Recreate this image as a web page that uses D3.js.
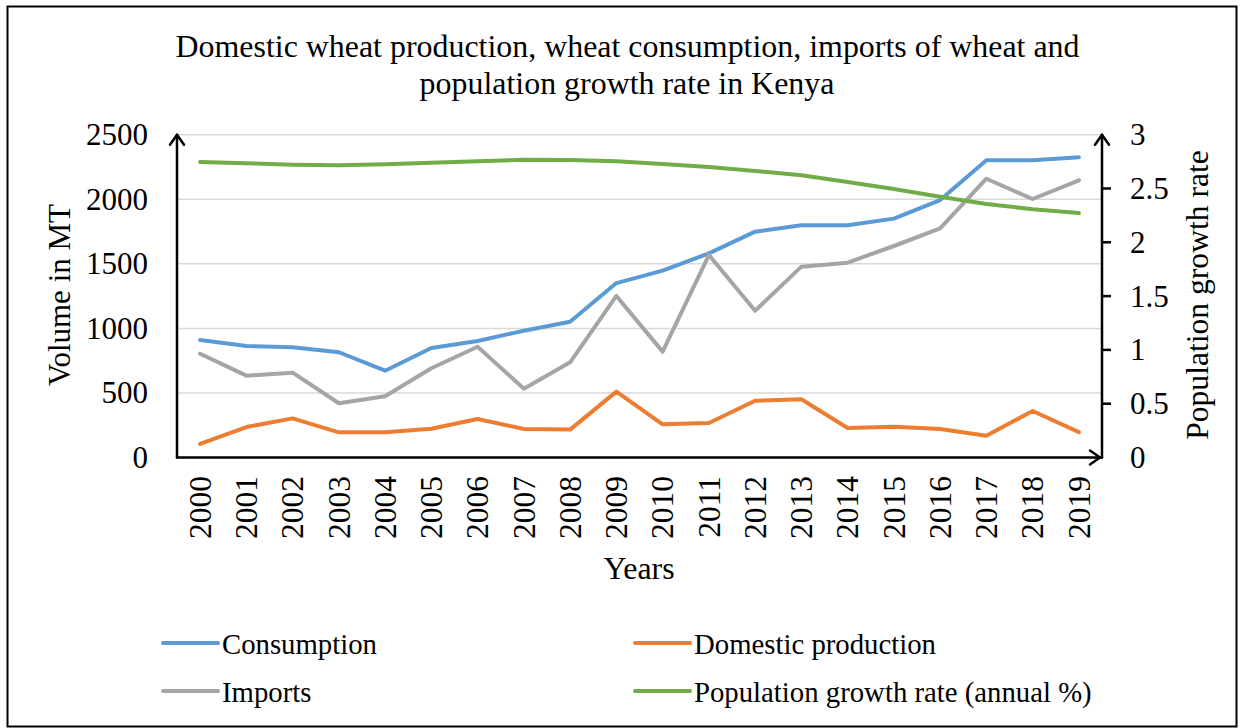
<!DOCTYPE html>
<html><head><meta charset="utf-8">
<script src="https://cdn.jsdelivr.net/npm/d3@7"></script>
<style>body{margin:0;background:#fff}svg{display:block}text{font-family:"Liberation Serif","Times New Roman",serif;fill:#000}</style>
</head><body><svg id="c" width="1244" height="728"></svg>
<script>
const years = ["2000","2001","2002","2003","2004","2005","2006","2007","2008","2009","2010","2011","2012","2013","2014","2015","2016","2017","2018","2019"];
const consumption = [910,864,853,815,672,848,902,982,1052,1351,1447,1581,1749,1798,1798,1850,1994,2302,2302,2325];
const domestic = [105,236,303,195,195,223,298,221,216,510,257,267,440,451,228,239,221,169,360,197];
const imports = [804,634,657,420,474,691,858,533,737,1251,820,1568,1137,1478,1509,1638,1775,2159,2002,2147];
const popGrowth = [2.746,2.734,2.721,2.716,2.725,2.740,2.753,2.768,2.765,2.753,2.728,2.700,2.663,2.623,2.560,2.495,2.424,2.356,2.307,2.272];
const leftTicks = [0,500,1000,1500,2000,2500];
const rightTicks = [0,0.5,1,1.5,2,2.5,3];
const seriesNames = ["Consumption","Domestic production","Imports","Population growth rate (annual %)"];
const colors = ["#5b9bd5","#ed7d31","#a5a5a5","#70ad47"];

const svg = d3.select("#c");
svg.append("rect").attr("x",7.5).attr("y",6.5).attr("width",1229).attr("height",720).attr("fill","none").attr("stroke","#000").attr("stroke-width",2);

const L=177, R=1102, T=134.7, B=457.5;
const x = d3.scalePoint().domain(years).range([L,R]).padding(0.5);
const yL = d3.scaleLinear().domain([0,2500]).range([B,T]);
const yR = d3.scaleLinear().domain([0,3]).range([B,T]);

// gridlines
svg.append("g").selectAll("line").data(leftTicks.slice(1)).join("line")
  .attr("x1",L).attr("x2",R).attr("y1",d=>yL(d)).attr("y2",d=>yL(d))
  .attr("stroke","#d9d9d9").attr("stroke-width",1.5);

function txt(parent, tx, ty, rot, s, size, anchor, str, dy){
  const t = parent.append("text")
    .attr("transform",`translate(${tx},${ty})${rot?` rotate(${rot})`:""} scale(${s},1)`)
    .attr("font-size",size).attr("text-anchor",anchor).text(str);
  if(dy) t.attr("dy",dy);
  return t;
}

// title
txt(svg,627.5,57,0,1.03,31,"middle","Domestic wheat production, wheat consumption, imports of wheat and");
txt(svg,627,94,0,1.03,31,"middle","population growth rate in Kenya");

// series
const lineL = d3.line().x((d,i)=>x(years[i])).y(d=>yL(d));
const lineR = d3.line().x((d,i)=>x(years[i])).y(d=>yR(d));
[[consumption,0],[domestic,1],[imports,2]].forEach(([arr,k])=>{
  svg.append("path").attr("d",lineL(arr)).attr("fill","none").attr("stroke",colors[k]).attr("stroke-width",4).attr("stroke-linejoin","round").attr("stroke-linecap","round");
});
svg.append("path").attr("d",lineR(popGrowth)).attr("fill","none").attr("stroke",colors[3]).attr("stroke-width",4).attr("stroke-linejoin","round").attr("stroke-linecap","round");

// axes lines
const ax = svg.append("g").attr("stroke","#000").attr("stroke-width",2.5).attr("fill","none").attr("stroke-linecap","round").attr("stroke-linejoin","round");
ax.append("line").attr("x1",L).attr("x2",L).attr("y1",B).attr("y2",T);
ax.append("path").attr("d",`M${L-7},${T+10}L${L},${T}L${L+7},${T+10}`);
ax.append("line").attr("x1",L).attr("x2",R).attr("y1",B).attr("y2",B);
ax.append("path").attr("d",`M${R-12},${B-7}L${R-2},${B}L${R-12},${B+7}`);
ax.append("line").attr("x1",R).attr("x2",R).attr("y1",B).attr("y2",T);
ax.append("path").attr("d",`M${R-7},${T+10}L${R},${T}L${R+7},${T+10}`);
svg.append("g").selectAll("line").data(rightTicks.slice(1,-1)).join("line")
  .attr("x1",R).attr("x2",R+9).attr("y1",d=>yR(d)).attr("y2",d=>yR(d)).attr("stroke","#000").attr("stroke-width",2.5);

// tick labels
const gl = svg.append("g");
leftTicks.forEach(d=>txt(gl,148,yL(d),0,1,31,"end",d,"0.34em"));
const gr = svg.append("g");
rightTicks.forEach(d=>txt(gr,1130,yR(d),0,1,31,"start",d,"0.34em"));
const gx = svg.append("g");
years.forEach(d=>txt(gx,x(d),476,-90,1,31.5,"end",d,"0.34em"));

// axis titles
txt(svg,70,295,-90,1,31,"middle","Volume in MT");
txt(svg,1208,295,-90,1.02,31,"middle","Population growth rate");
txt(svg,639,579,0,1.03,31,"middle","Years");

// legend
const legPos = [[163,643],[635,643],[163,691],[635,691]];
seriesNames.forEach((n,i)=>{
  const [lx,ly]=legPos[i];
  svg.append("line").attr("x1",lx).attr("x2",lx+55).attr("y1",ly).attr("y2",ly).attr("stroke",colors[i]).attr("stroke-width",4).attr("stroke-linecap","round");
  txt(svg,lx+59,ly+11,0,0.975,29.5,"start",n);
});
</script></body></html>
